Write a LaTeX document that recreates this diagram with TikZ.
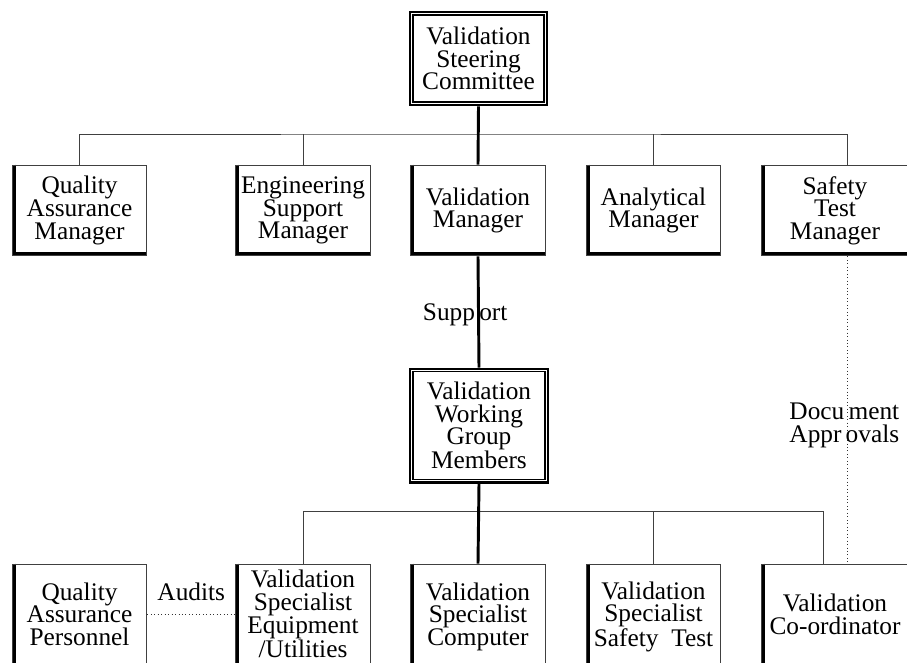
\documentclass[tikz,border=0pt]{standalone}
\usepackage{fontspec}
\setmainfont{Liberation Serif}
\usetikzlibrary{positioning}
\tikzset{unit style/.style={
		draw=black!75,
		line width=0.7pt,
		rectangle,
		minimum width=101pt,
		minimum height=68pt,
		inner sep=0pt,
		align=center,
		font=\fontsize{19}{17}\selectfont,
		append after command={\pgfextra{
			\draw[line width=3pt] ([xshift=1.5pt]\tikzlastnode.north west)
			-- ([xshift=1.5pt,yshift=1.5pt]\tikzlastnode.south west)
			-- ([yshift=1.5pt]\tikzlastnode.south east);}},
	},
	lower style/.style={
		unit style,
		minimum height=84pt,
		text depth=9pt
	},
	panel style/.style={
		draw=black,
		line width=2pt,
		rectangle,
		inner sep=0pt,
		align=center,
		font=\fontsize{19}{17}\selectfont,
		append after command={\pgfextra{
			\draw[line width=0.9pt] ([xshift=3.2pt,yshift=-3.2pt]\tikzlastnode.north west)
			rectangle ([xshift=-3.2pt,yshift=3.2pt]\tikzlastnode.south east);}},
	},
	link style/.style={
		draw=black!75,
		line width=0.75pt
	},
	main link/.style={
		draw=black,
		line width=2.2pt
	},
	note style/.style={
		dotted,
		draw=black!80,
		line width=0.6pt
	},
	label style/.style={
		text=black,
		inner sep=0pt,
		align=center,
		font=\fontsize{19}{17}\selectfont
	}
}

\begin{document}
\begin{tikzpicture}[x=0.75pt,y=-0.75pt]
	\useasboundingbox (0,0) rectangle (907,662);
	\clip (0,0) rectangle (907,662);

	% top of the chart
	\node[panel style, minimum width=102.75pt, minimum height=69.75pt] (VSC) at (478.5,58.5) {Validation\\Steering\\Committee};

	% managers
	\node[unit style] (QAM) at (79.5,210.5) {Quality\\Assurance\\Manager};
	\node[unit style] (ESM) at (303,210.5) {Engineering\\Support\\Manager};
	\node[unit style] (VM) at (478,210.5) {Validation\\Manager};
	\node[unit style] (AM) at (653.5,210.5) {Analytical\\Manager};
	\node[unit style, minimum width=110pt] (STM) at (835,210.5) {Safety\\Test\\Manager};

	\node[panel style, minimum width=103.5pt, minimum height=85pt] (VWG) at (479,425.5) {Validation\\Working\\Group\\Members};

	% specialists
	\node[lower style] (QAP) at (79.5,620) {Quality\\Assurance\\Personnel};
	\node[lower style] (VSE) at (303,620) {Validation\\Specialist\\Equipment\\/Utilities};
	\node[lower style] (VSC2) at (478,620) {Validation\\Specialist\\Computer};
	\node[lower style] (VSS) at (653.5,620) {Validation\\Specialist\\Safety\ \ Test};
	\node[lower style, minimum width=110pt] (VCO) at (835,620) {Validation\\Co-ordinator};

	% upper bus
	\coordinate (upper bus) at (478,134);
	\draw[link style] (QAM.north) |- (upper bus) -| ([xshift=9pt]STM.north);
	\draw[link style] (ESM.north) -- (ESM.north |- upper bus);
	\draw[link style] (AM.north) -- (AM.north |- upper bus);

	% lower bus
	\coordinate (lower bus) at (478,511);
	\draw[link style] (VSE.north) |- (lower bus) -| ([xshift=-9pt]VCO.north);
	\draw[link style] (VSS.north) -- (VSS.north |- lower bus);

	% line of command
	\draw[main link] (VSC.south) -- (VM.north);
	\draw[main link] (VM.south) -- (VWG.north)
		node[label style, pos=0.53, xshift=-10pt] (Support) {Supp\,ort};
	\draw[main link] (VWG.south) -- (VSC2.north);

	% dotted relations
	\draw[note style] ([xshift=9pt]STM.south) -- ([xshift=9pt]VCO.north)
		node[label style, pos=0.55, xshift=-2pt] (DocApp) {Docu\,ment\\Appr\,ovals};
	\draw[note style] ([yshift=4.5pt]QAP.east) -- ([yshift=4.5pt]VSE.west)
		node[label style, midway, above=10pt] (Audits) {Audits};
\end{tikzpicture}
\end{document}
